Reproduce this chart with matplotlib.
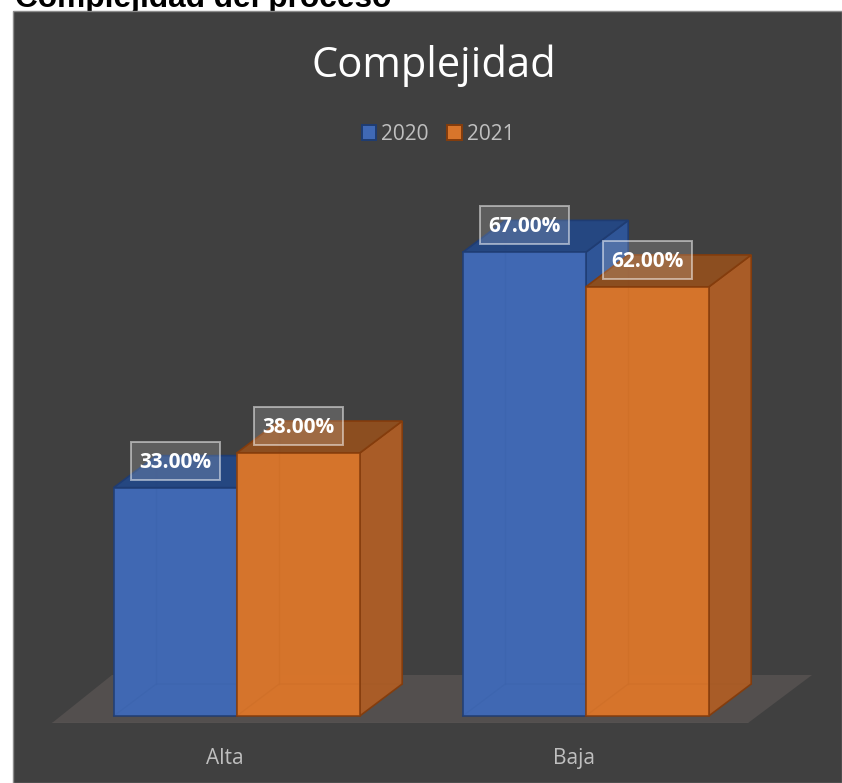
import matplotlib
matplotlib.use("Agg")
import matplotlib.pyplot as plt
from matplotlib.patches import Polygon, Rectangle, Patch

categories = ["Alta", "Baja"]
series_names = ["2020", "2021"]
values_2020 = [33.0, 67.0]
values_2021 = [38.0, 62.0]
main_title = "Complejidad"
outer_title = "Complejidad del proceso"

W, H = 842, 783
fig = plt.figure(figsize=(W / 100, H / 100), dpi=100, facecolor="white")
plt.rcParams["font.family"] = ["Open Sans", "DejaVu Sans"]

# chart panel (the outer heading runs behind its top edge)
fig.patches.append(Rectangle((12.5 / W, 0), (W - 12.5) / W, (H - 10.5) / H, transform=fig.transFigure,
                             facecolor="#404040", edgecolor="#8c8c8c", linewidth=1.0, zorder=-1))
fig.text(15 / W, 1 - 6.5 / H, outer_title, family="Liberation Sans", weight="bold", fontsize=22.8,
         color="black", ha="left", va="baseline", zorder=-2)

# scale: category step and percent step in pixels
PX_X, PX_Y = 349.0, 6.92
X0, Y0 = 236.7, 716.0
AX_BOTTOM = 723.0
ax = fig.add_axes([0, (H - AX_BOTTOM) / H, 1, (AX_BOTTOM - 10) / H])
ax.set_xlim(-X0 / PX_X, (W - X0) / PX_X)
ax.set_ylim(-(AX_BOTTOM - Y0) / PX_Y, (Y0 - 10) / PX_Y)
ax.patch.set_visible(False)
for s in ax.spines.values():
    s.set_visible(False)

px = lambda v: v / PX_X
py = lambda v: v / PX_Y
DX, DY = px(42.5), py(32)
BW = px(123)

ax.set_yticks([])
ax.set_xticks([i - px(12) for i in range(len(categories))], categories)
ax.tick_params(axis="x", length=0, pad=18, labelsize=15, labelcolor="#bfbfbf")

# floor
fl, fr = px(52 - X0), px(748 - X0)
ax.add_patch(Polygon([(fl, py(-7)), (fr, py(-7)), (fr + px(64), py(41)), (fl + px(60), py(41))],
                     closed=True, facecolor="#534f4e", edgecolor="none", zorder=1))
ax.plot([fl, fr], [py(-6.5), py(-6.5)], color="#5e5b5a", lw=1, zorder=1.1)

STY = {
    "2020": dict(front="#4069b5", side="#2f5597", top="#254680", edge="#1f3c72"),
    "2021": dict(front="#d8752b", side="#a85c27", top="#8a4d20", edge="#843c0c"),
}

def draw_bar(x, v, st, z):
    l, r = x, x + BW
    e = dict(edgecolor=st["edge"], linewidth=1.2)
    # inner left, floor and back faces, seen through the translucent front
    inner = [(l, 0), (r, 0), (r + DX, DY), (r + DX, v + DY), (l + DX, v + DY), (l, v)]
    ax.add_patch(Polygon(inner, facecolor=st["front"], alpha=0.88, edgecolor="none", zorder=z))
    ax.plot([l, l + DX, r + DX], [0, DY, DY], color=st["edge"], lw=1.0, alpha=0.7, zorder=z + 0.05)
    ax.plot([l + DX, l + DX], [DY, v + DY], color=st["edge"], lw=1.0, alpha=0.7, zorder=z + 0.05)
    ax.add_patch(Polygon([(r, 0), (r + DX, DY), (r + DX, v + DY), (r, v)], facecolor=st["side"],
                         alpha=0.97, zorder=z + 0.1, **e))
    ax.add_patch(Polygon([(l, v), (l + DX, v + DY), (r + DX, v + DY), (r, v)], facecolor=st["top"],
                         alpha=0.97, zorder=z + 0.2, **e))
    ax.bar(x, v, width=BW, align="edge", color=st["front"], alpha=0.89, zorder=z + 0.3, **e)

def draw_label(x, v, z):
    cx = x + BW / 2
    cy = v + py(27)
    w, h = px(89), py(38)
    ax.add_patch(Rectangle((cx - w / 2, cy - h / 2), w, h, facecolor=(1, 1, 1, 0.16),
                           edgecolor=(1, 1, 1, 0.5), linewidth=1.4, zorder=z))
    ax.text(cx, cy - py(1.5), f"{v:.2f}%", color="white", weight="bold", fontsize=15,
            ha="center", va="center", zorder=z + 0.1)

for i in range(len(categories)):
    z = 2 + 2 * i
    draw_bar(i - BW, values_2020[i], STY["2020"], z)
    draw_bar(i, values_2021[i], STY["2021"], z + 0.5)
for i in range(len(categories)):
    draw_label(i - BW, values_2020[i], 10)
    draw_label(i, values_2021[i], 10)

ax.set_title(main_title, color="white", fontsize=30, y=(AX_BOTTOM - 77) / (AX_BOTTOM - 10),
             pad=0, va="baseline", x=(434 / W))

handles = [Patch(facecolor=STY[n]["front"], edgecolor=STY[n]["edge"], linewidth=1.4) for n in series_names]
leg = ax.legend(handles, series_names, loc="center", ncol=2,
                bbox_to_anchor=(438 / W, (AX_BOTTOM - 134.5) / (AX_BOTTOM - 10)),
                frameon=False, handlelength=0.7, handleheight=0.7, handletextpad=0.24,
                columnspacing=0.87, fontsize=15, labelcolor="#bfbfbf")
leg.set_zorder(20)

fig.savefig("out.png", dpi=100, facecolor="white")
